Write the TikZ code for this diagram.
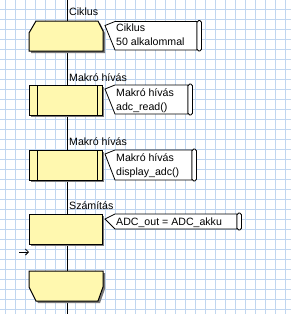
\documentclass[tikz,border=0pt]{standalone}
\usepackage{fontspec}
\setmainfont{Liberation Sans}
\usepackage{xcolor}
\usetikzlibrary{positioning,arrows.meta}
\definecolor{racskek}{RGB}{192,214,240}
\definecolor{blokksarga}{RGB}{255,248,175}
\definecolor{arnyek}{RGB}{120,120,120}

\begin{document}
\begin{tikzpicture}[x=1pt,y=-1pt,
  racs/.style={racskek,line width=1pt},
  blokk/.style={draw=black,fill=blokksarga,line width=1pt,line join=miter},
  arny/.style={fill=arnyek,draw=none},
  megj/.style={draw=black,fill=white,line width=0.8pt,line join=miter},
  tekercs/.style={draw=black,fill=white,line width=0.8pt,rounded corners=1.8pt},
  felirat/.style={inner sep=0pt,anchor=base west,font=\fontsize{10.6}{13}\selectfont}]
\useasboundingbox (0,0) rectangle (291,314);
\fill[white] (0,0) rectangle (291,314);
% racs
\foreach \x in {5.5,15.5,...,285.5} \draw[racs] (\x,0) -- (\x,314);
\foreach \y in {9.5,19.5,...,309.5} \draw[racs] (0,\y) -- (291,\y);
% gerinc
\coordinate (gerinc fent) at (67.5,0);
\coordinate (gerinc lent) at (67.5,314);
\draw[line width=1pt] (gerinc fent) -- (gerinc lent);
% ciklus kezdete
\fill[arny] (38,23) -- (100,23) -- (105,33) -- (105,53) -- (31,53) -- (31,35) -- cycle;
\draw[blokk] (36,21) -- (98,21) -- (103,31) -- (103,51) -- (29,51) -- (29,33) -- cycle;
% makro 1
\fill[arny] (31,87) rectangle (104,117);
\draw[blokk] (29,85) rectangle (102,115);
\draw[line width=1pt] (37,85) -- (37,115) (97,85) -- (97,115);
% makro 2
\fill[arny] (31,152) rectangle (104,182);
\draw[blokk] (29,150) rectangle (102,180);
\draw[line width=1pt] (37,150) -- (37,180) (97,150) -- (97,180);
% szamitas
\fill[arny] (31,216) rectangle (104,246);
\draw[blokk] (29,214) rectangle (102,244);
% ciklus vege
\fill[arny] (31,273) -- (105,273) -- (105,289) -- (100,303) -- (38,303) -- (31,289) -- cycle;
\draw[blokk] (29,271) -- (103,271) -- (103,287) -- (98,301) -- (36,301) -- (29,287) -- cycle;
% kis nyil
\coordinate (nyil eleje) at (19,252);
\coordinate (nyil vege) at (29,252);
\draw[line width=0.8pt,-{Straight Barb[length=3pt,width=6pt]}] (nyil eleje) -- (nyil vege);
% feliratok
\node[felirat] (lbl ciklus) at (69,15.5) {Ciklus};
\node[felirat] (lbl makro1) at (69,81.5) {Makró hívás};
\node[felirat] (lbl makro2) at (69,145.5) {Makró hívás};
\node[felirat] (lbl szamitas) at (69,209.5) {Számítás};
% megjegyzesek
\draw[megj] (115,21.5) -- (197,21.5) -- (197,50) -- (115,50) -- (105,25.5) -- cycle;
\draw[tekercs] (197,20.5) rectangle (201.5,51);
\node[felirat] (megj ciklus a) at (116,31.5) {Ciklus};
\node[felirat] (megj ciklus b) at (116,45.5) {50 alkalommal};
\draw[megj] (115,85) -- (188,85) -- (188,114) -- (115,114) -- (105,89) -- cycle;
\draw[tekercs] (188,84) rectangle (192.5,115);
\node[felirat] (megj makro1 a) at (116,96.5) {Makró hívás};
\node[felirat] (megj makro1 b) at (116,110.5) {adc\_read()};
\draw[megj] (115,150) -- (192,150) -- (192,180) -- (115,180) -- (105,154) -- cycle;
\draw[tekercs] (192,149) rectangle (196.5,181);
\node[felirat] (megj makro2 a) at (116,161.5) {Makró hívás};
\node[felirat] (megj makro2 b) at (116,175.5) {display\_adc()};
\draw[megj] (115,214) -- (237,214) -- (237,229) -- (115,229) -- (105,219) -- cycle;
\draw[tekercs] (237,213) rectangle (241.5,230);
\node[felirat] (megj szamitas) at (116,225.5) {ADC\_out = ADC\_akku};
\end{tikzpicture}
\end{document}
